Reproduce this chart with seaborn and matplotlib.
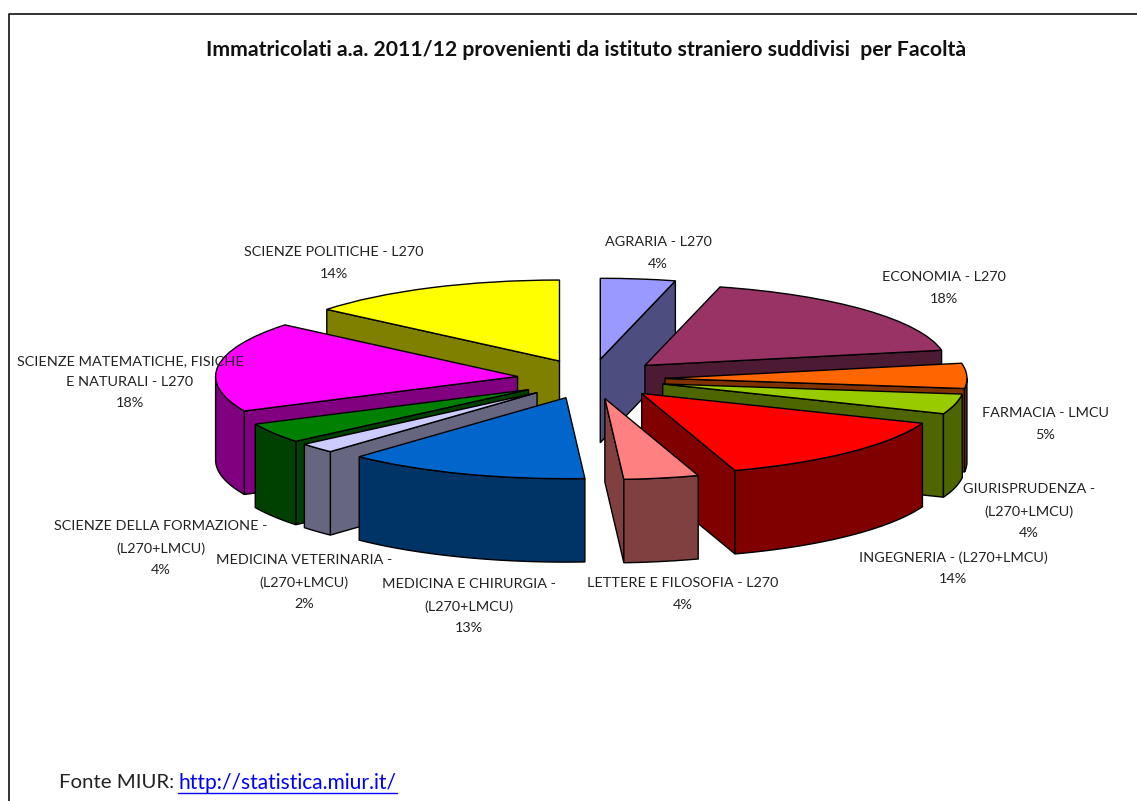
import numpy as np
import matplotlib
matplotlib.use("Agg")
import matplotlib.pyplot as plt
import seaborn as sns

title = "Immatricolati a.a. 2011/12 provenienti da istituto straniero suddivisi  per Facoltà"
labels = ["AGRARIA - L270\n4%", "ECONOMIA - L270\n18%", "FARMACIA - LMCU\n5%",
          "GIURISPRUDENZA -\n(L270+LMCU)\n4%", "INGEGNERIA - (L270+LMCU)\n14%",
          "LETTERE E FILOSOFIA - L270\n4%", "MEDICINA E CHIRURGIA -\n(L270+LMCU)\n13%",
          "MEDICINA VETERINARIA -\n(L270+LMCU)\n2%", "SCIENZE DELLA FORMAZIONE -\n(L270+LMCU)\n4%",
          "SCIENZE MATEMATICHE, FISICHE\nE NATURALI - L270\n18%", "SCIENZE POLITICHE - L270\n14%"]
values = [4, 18, 5, 4, 14, 4, 13, 2, 4, 18, 14]
top_colors = ["#9999FF", "#993366", "#FF6600", "#99CC00", "#FF0000", "#FF8080",
              "#0066CC", "#CCCCFF", "#008000", "#FF00FF", "#FFFF00"]
wall_colors = ["#4D4D80", "#4D1A33", "#803300", "#4D6600", "#800000", "#804040",
               "#003366", "#666680", "#004000", "#800080", "#808000"]
label_xy = [(658, 253), (944, 288), (1045, 424), (1029, 511), (953, 568),
            (683, 594), (469, 606), (304, 582), (161, 548), (130, 382), (334, 263)]
draw_order = [10, 0, 1, 2, 3, 9, 4, 8, 7, 5, 6]

W, H = 1137, 801
CX, CY, A, B = 591, 379, 302, 81
EXPLODE = 0.245
DEPTH = 1.03

sns.set_theme(style="white")
plt.rcParams["font.family"] = ["Lato", "DejaVu Sans"]
fig = plt.figure(figsize=(W / 100, H / 100), dpi=100, facecolor="white")
ax = fig.add_axes([0, 0, 1, 1])
wedges, _ = ax.pie(values, explode=[EXPLODE] * len(values), startangle=90, counterclock=False,
                   colors=sns.color_palette(top_colors), frame=True,
                   wedgeprops=dict(edgecolor="black", linewidth=1.0))
ax.set_aspect("auto")
ax.set_xlim(-CX / A, (W - CX) / A)
ax.set_ylim((CY - H) / B, CY / B)
ax.axis("off")

edges = np.cumsum([0] + values) / sum(values) * 2 * np.pi
wall_style = dict(edgecolor="black", linewidth=1.0)
for z, i in enumerate(draw_order):
    a0, a1 = edges[i], edges[i + 1]
    mid = (a0 + a1) / 2
    ox, oy = EXPLODE * np.sin(mid), EXPLODE * np.cos(mid)
    base = 3 * z + 2
    # radial walls that face the viewer
    for a, visible in ((a0, np.sin(a0) < 0), (a1, np.sin(a1) > 0)):
        if visible:
            ex, ey = ox + np.sin(a), oy + np.cos(a)
            ax.fill([ox, ex, ex, ox], [oy, ey, ey - DEPTH, oy - DEPTH],
                    facecolor=wall_colors[i], zorder=base, **wall_style)
    # outer rim: only the part facing the viewer
    lo, hi = max(a0, np.pi / 2), min(a1, 3 * np.pi / 2)
    if hi > lo:
        ang = np.linspace(lo, hi, 80)
        ex, ey = ox + np.sin(ang), oy + np.cos(ang)
        ax.fill(np.r_[ex, ex[::-1]], np.r_[ey, ey[::-1] - DEPTH],
                facecolor=wall_colors[i], zorder=base + 1, **wall_style)
    wedges[i].set_zorder(base + 2)

ov = fig.add_axes([0, 0, 1, 1], facecolor="none")
ov.set_xlim(0, W)
ov.set_ylim(H, 0)
ov.axis("off")
ov.plot([9, 9, 1137], [H, 13.5, 13.5], color="#222222", lw=1.3, clip_on=False)
ov.text(586, 50, title, ha="center", va="center", fontsize=15.3, fontweight="bold", color="#111111")
for lab, (x, y) in zip(labels, label_xy):
    ov.text(x, y, lab, ha="center", va="center", fontsize=10.4, color="#222222", linespacing=1.92)
ov.text(59, 783, "Fonte MIUR:", ha="left", va="center", fontsize=14.7, color="#222222")
ov.text(178, 783, "http://statistica.miur.it/", ha="left", va="center", fontsize=15.1,
        color="#0000FF")
ov.plot([178, 397], [793, 793], color="#0000FF", lw=1)
fig.savefig("out.png", dpi=100)
